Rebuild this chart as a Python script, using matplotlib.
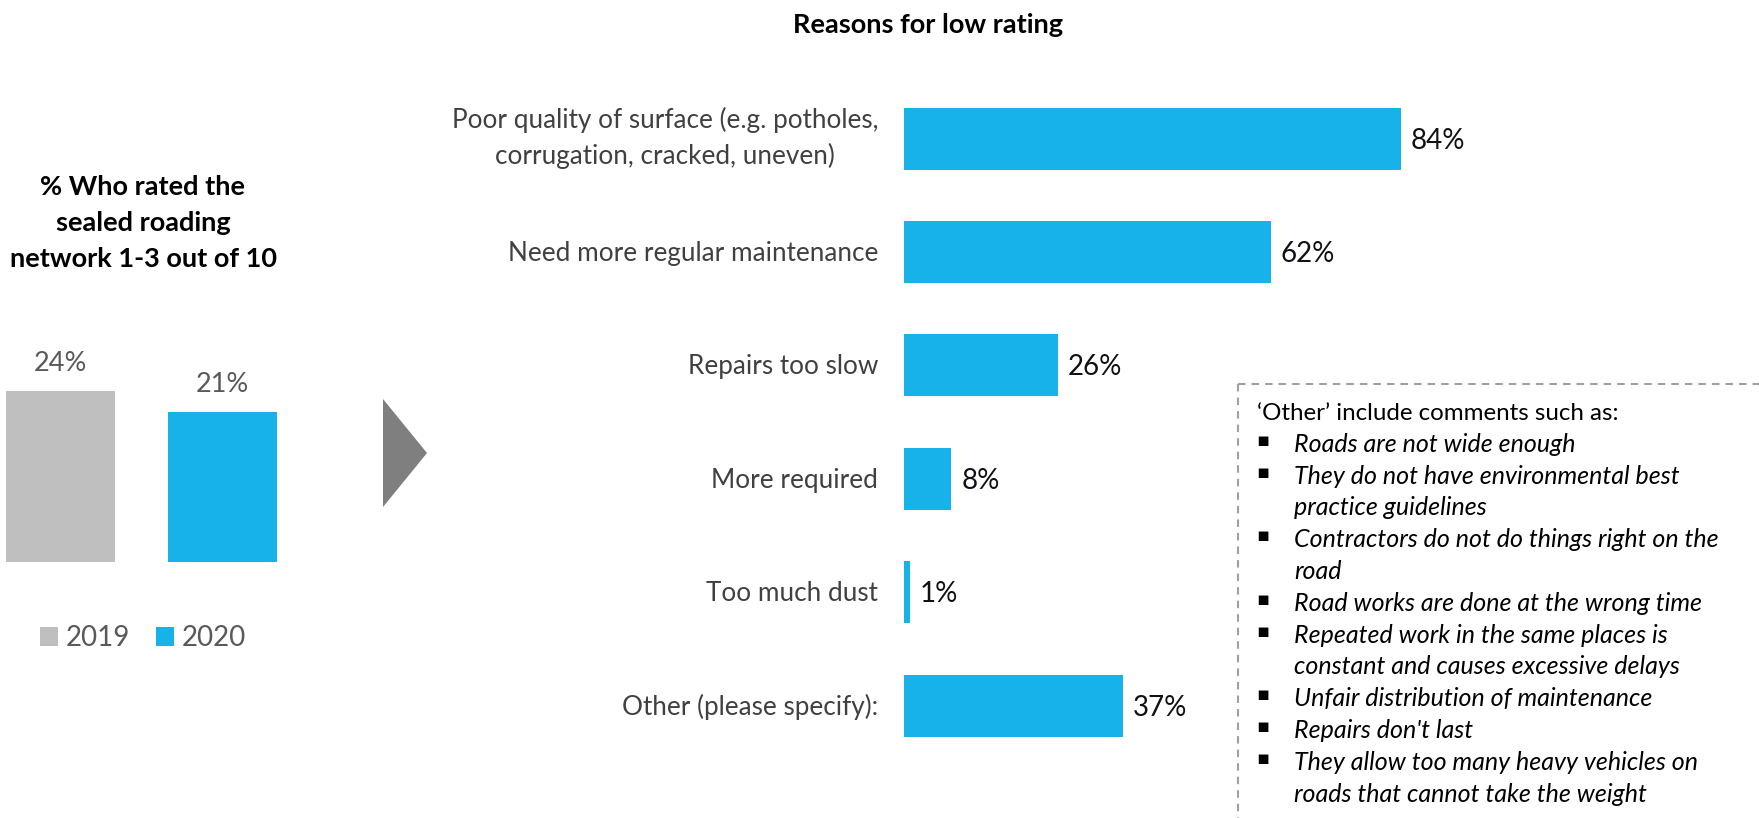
import matplotlib
matplotlib.use("Agg")
import matplotlib.pyplot as plt
from matplotlib.patches import Polygon, Patch
from matplotlib.lines import Line2D
from matplotlib.font_manager import FontProperties

# ---------------------------------------------------------------- data
years = ["2019", "2020"]
low_rating_share = [24, 21]

reasons = [
    "Poor quality of surface (e.g. potholes,\ncorrugation, cracked, uneven)",
    "Need more regular maintenance",
    "Repairs too slow",
    "More required",
    "Too much dust",
    "Other (please specify):",
]
reason_share = [84, 62, 26, 8, 1, 37]

left_title = "% Who rated the\nsealed roading\nnetwork 1-3 out of 10"
right_title = "Reasons for low rating"

other_heading = "\u2018Other\u2019 include comments such as:"
other_comments = [
    "Roads are not wide enough",
    "They do not have environmental best\npractice guidelines",
    "Contractors do not do things right on the\nroad",
    "Road works are done at the wrong time",
    "Repeated work in the same places is\nconstant and causes excessive delays",
    "Unfair distribution of maintenance",
    "Repairs don't last",
    "They allow too many heavy vehicles on\nroads that cannot take the weight",
]

# ---------------------------------------------------------------- style
BLUE = "#17B2E9"
GREY_BAR = "#BFBFBF"
ARROW_GREY = "#7F7F7F"
DASH_GREY = "#A0A0A0"
LABEL_GREY = "#595959"
CAT_GREY = "#404040"

W, H, DPI = 1759, 818, 100
plt.rcParams["font.family"] = ["Lato", "DejaVu Sans"]

fig = plt.figure(figsize=(W / DPI, H / DPI), dpi=DPI)
renderer = fig.canvas.get_renderer()


def fx(px):
    return px / W


def fy(py):
    # vertical pixel position measured from the top edge
    return 1 - py / H


def spacing_for(step_px, size, weight="normal", style="normal"):
    """Approximate linespacing value giving a line step of step_px pixels."""
    fp = FontProperties(family=["Lato", "DejaVu Sans"], size=size,
                        weight=weight, style=style)
    _, h, d = renderer.get_text_width_height_descent("lp", fp, ismath=False)
    return step_px / (h - d)


# ---------------------------------------------------------------- left panel
ax_l = fig.add_axes([fx(0), fy(562), fx(300), 200 / H])
ax_l.set_xlim(-60.5 / 162, (300 - 60.5) / 162)
ax_l.set_ylim(0, 200 / 7.125)
bars = ax_l.bar(range(len(years)), low_rating_share, width=109 / 162,
                color=[GREY_BAR, BLUE])
for b, v in zip(bars, low_rating_share):
    ax_l.annotate(f"{v}%", xy=(b.get_x() + b.get_width() / 2, v),
                  xytext=(0, 20), textcoords="offset pixels",
                  ha="center", va="baseline", fontsize=19.5, color=LABEL_GREY)
ax_l.axis("off")

handles = [Patch(facecolor=c, edgecolor="none") for c in (GREY_BAR, BLUE)]
fig.legend(handles, years, loc="center", bbox_to_anchor=(fx(143), fy(638)),
           ncol=2, frameon=False, fontsize=20, handlelength=0.65,
           handleheight=0.65, handletextpad=0.29, columnspacing=0.9,
           labelcolor=LABEL_GREY, borderpad=0, borderaxespad=0)

# multi-line text with va="baseline" sits on the baseline of its last line
title_size = 19.5
fig.text(fx(143), fy(267), left_title, ha="center", va="baseline",
         multialignment="center", fontsize=title_size, fontweight="bold",
         color="black",
         linespacing=0.92 * spacing_for(35, title_size, weight="bold"))

# arrow between the panels
fig.add_artist(Polygon([(fx(383), fy(399)), (fx(383), fy(507)), (fx(427), fy(453))],
                       closed=True, transform=fig.transFigure,
                       facecolor=ARROW_GREY, edgecolor="none"))

# ---------------------------------------------------------------- main panel
px_per_pct = 497 / 84
row_px = 113.4
ax = fig.add_axes([fx(904), fy(762.3), 600 / W, 680.4 / H])
ax.barh(range(len(reasons)), reason_share, height=62 / row_px, color=BLUE)
ax.set_xlim(0, 600 / px_per_pct)
ax.set_ylim(len(reasons) - 0.5, -0.5)
ax.axis("off")

cat_size = 18.8
cat_step = 32.5
for i, (lab, v) in enumerate(zip(reasons, reason_share)):
    ax.annotate(f"{v}%", xy=(v, i), xytext=(10, -10), textcoords="offset pixels",
                ha="left", va="baseline", fontsize=20, color="#111111")
    n = lab.count("\n") + 1
    ax.annotate(lab, xy=(0, i), xytext=(-26, -((n - 1) * cat_step / 2 + 9)),
                textcoords="offset pixels", ha="right", va="baseline",
                multialignment="center", fontsize=cat_size, color=CAT_GREY,
                linespacing=0.905 * spacing_for(cat_step, cat_size))

fig.text(fx(928), fy(33), right_title, ha="center", va="baseline",
         fontsize=19.5, fontweight="bold", color="black")

# ---------------------------------------------------------------- comments box
dash = dict(color=DASH_GREY, linewidth=1.5, linestyle=(0, (3.6, 2.9)))
fig.add_artist(Line2D([fx(1238), fx(1759)], [fy(384), fy(384)],
                      transform=fig.transFigure, **dash))
fig.add_artist(Line2D([fx(1238), fx(1238)], [fy(384), fy(818)],
                      transform=fig.transFigure, **dash))

box_step = 31.8
y = 420
fig.text(fx(1257), fy(y), other_heading, ha="left", va="baseline",
         fontsize=17.4, color="black")
for item in other_comments:
    y += box_step
    fig.text(fx(1263), fy(y - 6), "\u25aa", ha="center", va="baseline",
             fontsize=14, color="black", family="DejaVu Sans")
    for line in item.split("\n"):
        fig.text(fx(1294), fy(y), line, ha="left", va="baseline",
                 fontsize=18.0, style="italic", color="black")
        y += box_step
    y -= box_step

fig.savefig("out.png", dpi=DPI)
